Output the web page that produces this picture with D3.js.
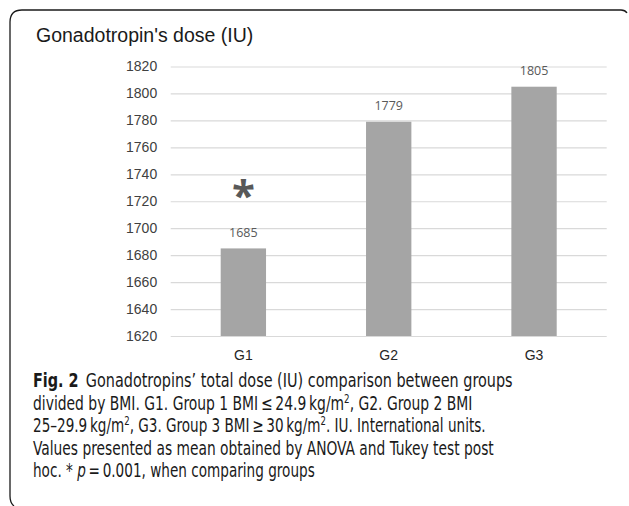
<!DOCTYPE html>
<html>
<head>
<meta charset="utf-8">
<script src="https://cdn.jsdelivr.net/npm/d3@7"></script>
<style>
  html, body { margin: 0; padding: 0; background: #fff; }
  svg { display: block; }
</style>
</head>
<body>
<div id="root"></div>
<script>
// chart values
var groups = ["G1", "G2", "G3"];
var doses = [1685, 1779, 1805];
var yTicks = [1620, 1640, 1660, 1680, 1700, 1720, 1740, 1760, 1780, 1800, 1820];
var starGroup = "G1";
var starValue = 1731;
var title = "Gonadotropin's dose (IU)";

// caption, one array per line: [text, style] pieces
var captionLines = [
    [["Fig. 2", "bold"], ["\u2002Gonadotropins\u2019 total dose (IU) comparison between groups", ""]],
    [["divided by BMI. G1. Group 1 BMI\u2009\u2264\u200924.9\u2009kg/m", ""], ["2", "sup"], [", G2. Group 2 BMI", ""]],
    [["25\u201329.9\u2009kg/m", ""], ["2", "sup"], [", G3. Group 3 BMI\u2009\u2265\u200930\u2009kg/m", ""], ["2", "sup"], [". IU. International units.", ""]],
    [["Values presented as mean obtained by ANOVA and Tukey test post", ""]],
    [["hoc. * ", ""], ["p", "italic"], ["\u2009=\u20090.001, when comparing groups", ""]]
];
var captionWidths = [480, 440, 453, 461, 282];

var width = 629, height = 506;
var margin = { top: 66.5, right: 22.3, bottom: 170, left: 170.7 };
var chartFont = "'Liberation Sans', Arial, sans-serif";

var svg = d3.select("#root").append("svg")
    .attr("width", width)
    .attr("height", height);

// frame with the rounded corner top left
svg.append("path")
    .attr("d", "M14,506 Q10,503 10,496 L10,22 Q10,10 22,10 L621,10 Q625,10 627,13")
    .attr("fill", "none")
    .attr("stroke", "#1a1a1a")
    .attr("stroke-width", 1.3);

svg.append("text")
    .attr("x", 36)
    .attr("y", 41.5)
    .style("font-family", chartFont)
    .style("font-size", "19.5px")
    .attr("fill", "#1a1a1a")
    .text(title);

var x = d3.scaleBand()
    .domain(groups)
    .range([margin.left, width - margin.right])
    .paddingInner(0.688)
    .paddingOuter(0.344);

var y = d3.scaleLinear()
    .domain([1620, 1820])
    .range([height - margin.bottom, margin.top]);

// gridlines + tick labels
var yAxis = d3.axisLeft(y)
    .tickValues(yTicks)
    .tickSize(-(width - margin.right - margin.left))
    .tickPadding(13.5)
    .tickFormat(d3.format("d"));

var yg = svg.append("g")
    .attr("transform", "translate(" + margin.left + ",0)")
    .call(yAxis);
yg.select(".domain").remove();
yg.selectAll(".tick line").attr("stroke", "#d9d9d9").attr("stroke-width", 1.2);
yg.selectAll(".tick text")
    .attr("fill", "#404040")
    .style("font-family", chartFont)
    .style("font-size", "14px");

// bars
svg.append("g").selectAll("rect")
    .data(groups)
    .enter()
    .append("rect")
    .attr("x", function (d) { return x(d); })
    .attr("width", x.bandwidth())
    .attr("y", function (d, i) { return y(doses[i]); })
    .attr("height", function (d, i) { return y(1620) - y(doses[i]); })
    .attr("fill", "#a5a5a5");

// value labels
svg.append("g").selectAll("text")
    .data(groups)
    .enter()
    .append("text")
    .attr("x", function (d) { return x(d) + x.bandwidth() / 2; })
    .attr("y", function (d, i) { return y(doses[i]) - 11.5; })
    .attr("text-anchor", "middle")
    .attr("fill", "#595959")
    .style("font-family", "'Open Sans', 'Noto Sans', sans-serif")
    .style("font-size", "12.5px")
    .text(function (d, i) { return doses[i]; });

// x labels
var xAxis = d3.axisBottom(x).tickSize(0).tickPadding(14);
var xg = svg.append("g")
    .attr("transform", "translate(0," + y(1620) + ")")
    .call(xAxis);
xg.select(".domain").remove();
xg.selectAll(".tick text")
    .attr("fill", "#262626")
    .style("font-family", chartFont)
    .style("font-size", "14px");

// significance mark
svg.append("text")
    .attr("x", x(starGroup) + x.bandwidth() / 2)
    .attr("y", y(starValue))
    .attr("text-anchor", "middle")
    .attr("dy", "0.55em")
    .attr("fill", "#595959")
    .style("font-family", "'Open Sans', sans-serif")
    .style("font-weight", "bold")
    .style("font-size", "42px")
    .text("*");

// caption
var capFont = "'DejaVu Sans Condensed', 'DejaVu Sans', sans-serif";
captionLines.forEach(function (line, i) {
    var g = svg.append("g");
    var t = g.append("text")
        .attr("fill", "#1a1a1a")
        .style("font-family", capFont)
        .style("font-size", "19px");
    line.forEach(function (piece) {
        var s = t.append("tspan").text(piece[0]);
        if (piece[1] === "bold") s.style("font-weight", "bold");
        if (piece[1] === "italic") s.style("font-style", "italic");
        if (piece[1] === "sup") {
            s.style("font-size", "12px").attr("dy", -7);
        }
    });
    // undo the superscript shift for the next piece
    t.selectAll("tspan").each(function (d, j) {
        if (j > 0 && line[j - 1][1] === "sup") d3.select(this).attr("dy", 7);
    });
    var w = t.node().getComputedTextLength();
    var sx = captionWidths[i] / w;
    g.attr("transform", "translate(33," + (387 + i * 22.6) + ") scale(" + sx + ",1)");
});
</script>
</body>
</html>
